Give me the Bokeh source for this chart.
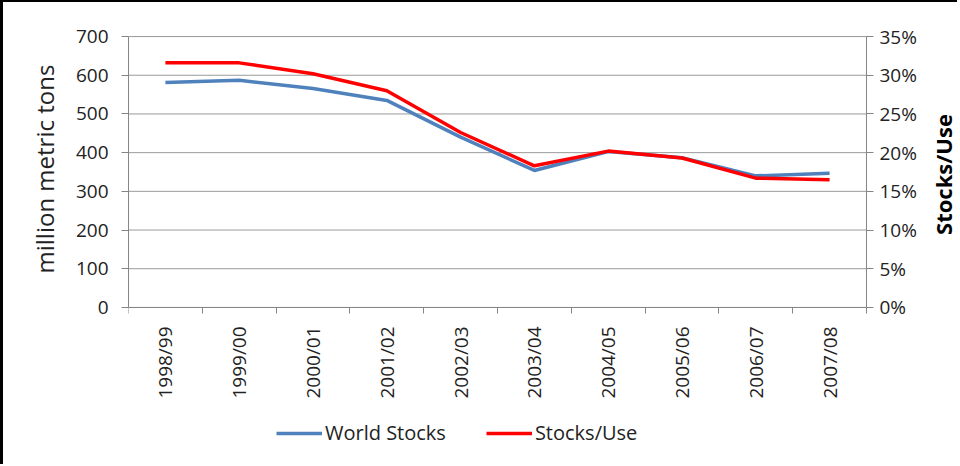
import math
from bokeh.plotting import figure
from bokeh.models import (Range1d, LinearAxis, FixedTicker, NumeralTickFormatter,
                          Legend, LegendItem, Title, Label)
from bokeh.embed import file_html
from bokeh.resources import INLINE

categories = ["1998/99", "1999/00", "2000/01", "2001/02", "2002/03",
              "2003/04", "2004/05", "2005/06", "2006/07", "2007/08"]
world_stocks = [581, 587, 566, 535, 440, 354, 403, 387, 340, 347]
stocks_use = [0.316, 0.316, 0.302, 0.280, 0.226, 0.183, 0.202, 0.193, 0.167, 0.165]
left_ticks = [0, 100, 200, 300, 400, 500, 600, 700]
right_ticks = [0.0, 0.05, 0.10, 0.15, 0.20, 0.25, 0.30, 0.35]

FONT = "Open Sans"
AXIS_GREY = "#868686"
GRID_GREY = "#9a9a9a"
TEXT = "#222222"

n = len(categories)
xpos = [i + 0.5 for i in range(n)]

# the frame extends past the axes' ends so that the legend, the top tick
# labels and the right-hand title can sit inside it
X_MAX = 11.274
LEFT_MIN, LEFT_MAX = -362, 726
RIGHT_MIN, RIGHT_MAX = -0.181, 0.363

p = figure(width=957, height=464, output_backend="svg", toolbar_location=None,
           x_range=Range1d(0, X_MAX), y_range=Range1d(LEFT_MIN, LEFT_MAX),
           min_border_left=125, min_border_right=0, min_border_top=24,
           min_border_bottom=19)
p.styles = {"border-top": "2px solid black", "border-left": "3px solid black"}
p.outline_line_color = None
p.background_fill_color = "white"
p.border_fill_color = "white"
p.xgrid.visible = False
p.ygrid.visible = False

# horizontal gridlines at the left-axis ticks, across the categories only
p.segment(x0=[0] * len(left_ticks), x1=[n] * len(left_ticks),
          y0=left_ticks, y1=left_ticks, line_color=GRID_GREY, line_width=1)

# x axis, drawn at y = 0
xa = p.xaxis[0]
xa.fixed_location = 0
xa.bounds = (0, n)
xa.ticker = FixedTicker(ticks=xpos, minor_ticks=list(range(n + 1)))
xa.major_label_overrides = {xp: c for xp, c in zip(xpos, categories)}
xa.major_label_orientation = math.pi / 2
xa.major_tick_line_color = None
xa.major_tick_out = 6
xa.major_tick_in = 0
xa.minor_tick_out = 6
xa.minor_tick_in = 0
xa.minor_tick_line_color = AXIS_GREY
xa.axis_line_color = AXIS_GREY
xa.major_label_standoff = 13
xa.major_label_text_font = FONT
xa.major_label_text_font_size = "19px"
xa.major_label_text_color = TEXT

# left axis
ya = p.yaxis[0]
ya.bounds = (0, 700)
ya.ticker = FixedTicker(ticks=left_ticks)
ya.axis_line_color = AXIS_GREY
ya.major_tick_line_color = AXIS_GREY
ya.major_tick_out = 7
ya.major_tick_in = 0
ya.minor_tick_line_color = None
ya.major_label_standoff = 13
ya.major_label_text_font = FONT
ya.major_label_text_font_size = "19px"
ya.major_label_text_color = TEXT

left_title = Title(text="million metric tons", align="left", offset=174,
                   standoff=23, text_font=FONT, text_font_size="24px",
                   text_font_style="normal", text_color=TEXT)
p.add_layout(left_title, "left")

# right axis, drawn at the end of the last category
p.extra_y_ranges = {"pct": Range1d(RIGHT_MIN, RIGHT_MAX)}
ra = LinearAxis(y_range_name="pct", ticker=FixedTicker(ticks=right_ticks),
                formatter=NumeralTickFormatter(format="0%"), bounds=(0, 0.35),
                fixed_location=n)
ra.axis_line_color = AXIS_GREY
ra.major_tick_line_color = AXIS_GREY
ra.major_tick_out = 7
ra.major_tick_in = 0
ra.minor_tick_line_color = None
ra.major_label_standoff = 6
ra.major_label_text_font = FONT
ra.major_label_text_font_size = "19px"
ra.major_label_text_color = TEXT
p.add_layout(ra, "right")

right_title = Label(x=814, y=273, x_units="screen", y_units="screen",
                    text="Stocks/Use", angle=math.pi / 2,
                    text_align="center", text_baseline="middle",
                    text_font=FONT, text_font_size="22px",
                    text_font_style="bold", text_color="black")
p.add_layout(right_title)

blue = p.line(xpos, world_stocks, line_width=3.5, line_color="#4F81BD")
red = p.line(xpos, stocks_use, y_range_name="pct", line_width=3.5, line_color="#FF0000")

legend = Legend(items=[LegendItem(label="World Stocks", renderers=[blue]),
                       LegendItem(label="Stocks/Use", renderers=[red])],
                orientation="horizontal", location=(148, 1),
                border_line_color=None, background_fill_alpha=0,
                padding=0, margin=0, spacing=40, glyph_width=46, glyph_height=20,
                label_height=20, label_standoff=3,
                label_text_font=FONT, label_text_font_size="20px",
                label_text_color=TEXT)
p.add_layout(legend)

open("out.html", "w").write(file_html(p, INLINE))
